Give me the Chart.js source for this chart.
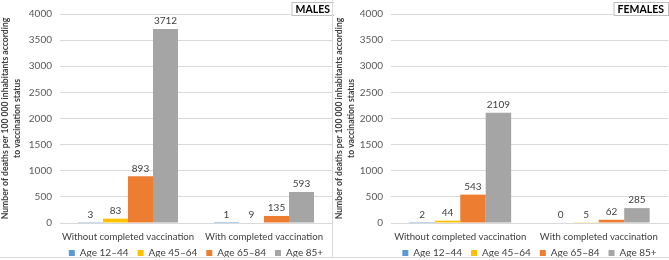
<!DOCTYPE html>
<html>
<head>
<meta charset="utf-8">
<script src="https://cdn.jsdelivr.net/npm/chart.js@4.4.1/dist/chart.umd.min.js"></script>
<style>
  body { margin: 0; background: #fff; }
  #wrap { position: relative; width: 669px; height: 260px; }
  .panel { position: absolute; top: 0; height: 260px; }
  #p1 { left: 0; width: 334px; }
  #p2 { left: 334px; width: 335px; }
  .line { position: absolute; background: #d9d9d9; }
</style>
</head>
<body>
<div id="wrap">
  <div class="panel" id="p1"><canvas id="males"></canvas></div>
  <div class="panel" id="p2"><canvas id="females"></canvas></div>
  <div class="line" style="left:332px;top:0;width:1px;height:258px"></div>
  <div class="line" style="left:0;top:257px;width:669px;height:1px"></div>
</div>
<script>
const categories = ['Without completed vaccination', 'With completed vaccination'];
const ageGroups = ['Age 12–44', 'Age 45–64', 'Age 65–84', 'Age 85+'];
const colors = ['#5b9bd5', '#ffc000', '#ed7d31', '#a5a5a5'];

// deaths per 100 000, [without, with]
const malesAge12 = [3, 1];
const malesAge45 = [83, 9];
const malesAge65 = [893, 135];
const malesAge85 = [3712, 593];

const femalesAge12 = [2, 0];
const femalesAge45 = [44, 5];
const femalesAge65 = [543, 62];
const femalesAge85 = [2109, 285];

const yTicks = [0, 500, 1000, 1500, 2000, 2500, 3000, 3500, 4000];

const FONT = 'Lato, "Liberation Sans", sans-serif';
const LEGEND_PAD = 9;

// value labels above the bars
const barLabels = {
    id: 'barLabels',
    afterDatasetsDraw(chart) {
        const ctx = chart.ctx;
        ctx.save();
        ctx.font = '10px ' + FONT;
        ctx.fillStyle = '#404040';
        ctx.textAlign = 'center';
        ctx.textBaseline = 'bottom';
        chart.data.datasets.forEach((ds, i) => {
            chart.getDatasetMeta(i).data.forEach((bar, j) => {
                ctx.fillText(ds.data[j], bar.x, bar.y - 3);
            });
        });
        ctx.restore();
    }
};

// legend tweaks + boxed panel name in the top right corner
const panelTag = {
    id: 'panelTag',
    afterInit(chart) {
        // short legend box so the plot reaches down like the original
        const lg = chart.legend;
        const fit = lg.fit;
        lg.fit = function () { fit.call(this); this.height = 9; };
    },
    afterLayout(chart) {
        // center legend under the plot area, items at y ~248
        const lg = chart.legend, a = chart.chartArea;
        const dx = (a.left + a.right) / 2 - (lg.left + lg.right) / 2;
        lg.left += dx;
        lg.right += dx;
        lg.top = 248 - LEGEND_PAD;
    },
    afterDraw(chart, args, opts) {
        const ctx = chart.ctx;
        ctx.save();
        ctx.font = 'bold 10.5px ' + FONT;
        const w = ctx.measureText(opts.text).width + 8;
        const x = chart.width - opts.right - w;
        ctx.fillStyle = '#fff';
        ctx.fillRect(x, 2, w, 14);
        ctx.strokeStyle = '#bfbfbf';
        ctx.lineWidth = 1;
        ctx.strokeRect(x + 0.5, 2.5, w, 13);
        ctx.fillStyle = '#000';
        ctx.textAlign = 'center';
        ctx.textBaseline = 'middle';
        ctx.fillText(opts.text, x + w / 2, 9.5);
        ctx.restore();
    }
};

function makeChart(canvasId, series, tag, yWidth, padRight, tagRight) {
    const ctx = document.getElementById(canvasId).getContext('2d');
    return new Chart(ctx, {
        type: 'bar',
        plugins: [barLabels, panelTag],
        data: {
            labels: categories,
            datasets: ageGroups.map((g, i) => ({
                label: g,
                data: series[i],
                backgroundColor: colors[i],
                categoryPercentage: 0.735,
                barPercentage: 1
            }))
        },
        options: {
            responsive: true,
            maintainAspectRatio: false,
            animation: false,
            layout: { padding: { top: 9, right: padRight, left: 0, bottom: 2 } },
            plugins: {
                legend: {
                    position: 'bottom',
                    labels: {
                        boxWidth: 6,
                        boxHeight: 6,
                        padding: LEGEND_PAD,
                        color: '#404040',
                        font: { family: FONT, size: 10 }
                    }
                },
                tooltip: { enabled: false },
                panelTag: { text: tag, right: tagRight }
            },
            scales: {
                x: {
                    grid: { display: false },
                    border: { color: '#d9d9d9' },
                    ticks: {
                        color: '#404040', padding: 0, maxRotation: 0, minRotation: 0, autoSkip: false,
                        font: { family: FONT, size: 9.6 }
                    },
                    afterFit: s => { s.height = 26; }
                },
                y: {
                    min: 0,
                    max: 4000,
                    afterBuildTicks: s => { s.ticks = yTicks.map(v => ({ value: v })); },
                    grid: { color: '#d9d9d9', drawTicks: false },
                    border: { display: false },
                    ticks: {
                        color: '#595959', padding: 8,
                        callback: v => String(v),
                        font: { family: FONT, size: 10 }
                    },
                    title: {
                        display: true,
                        text: ['Number of deaths per 100 000 inhabitants according', 'to vaccination status'],
                        color: '#404040',
                        padding: 0,
                        font: { family: FONT, size: 8.6, weight: 'bold', lineHeight: 1.3 }
                    },
                    afterFit: s => { s.width = yWidth; }
                }
            }
        }
    });
}

makeChart('males', [malesAge12, malesAge45, malesAge65, malesAge85], 'MALES', 60, 2, 0);
makeChart('females', [femalesAge12, femalesAge45, femalesAge65, femalesAge85], 'FEMALES', 57, 1, 1);
</script>
</body>
</html>
